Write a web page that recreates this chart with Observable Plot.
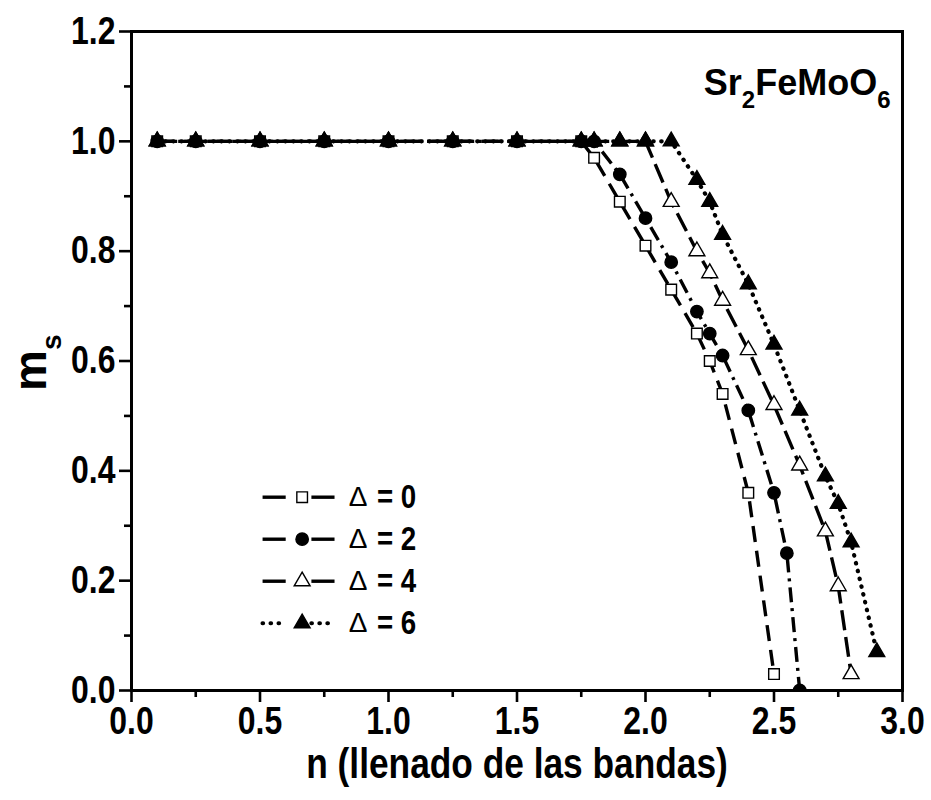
<!DOCTYPE html>
<html>
<head>
<meta charset="utf-8">
<script src="https://cdn.jsdelivr.net/npm/d3@7"></script>
<script src="https://cdn.jsdelivr.net/npm/@observablehq/plot@0.6"></script>
<style>
  body { margin: 0; background: #fff; }
  #chart svg { display: block; }
</style>
</head>
<body>
<div id="chart"></div>
<script>
// Band filling n where all curves are still saturated (m_s = 1)
const flatN = [0.1, 0.25, 0.5, 0.75, 1.0, 1.25, 1.5, 1.75];
const flatM = [1, 1, 1, 1, 1, 1, 1, 1];

// Δ = 0
const n0 = [...flatN, 1.8, 1.9, 2.0, 2.1, 2.2, 2.25, 2.3, 2.4, 2.5];
const m0 = [...flatM, 0.97, 0.89, 0.81, 0.73, 0.65, 0.60, 0.54, 0.36, 0.03];
// Δ = 2
const n2 = [...flatN, 1.8, 1.9, 2.0, 2.1, 2.2, 2.25, 2.3, 2.4, 2.5, 2.55, 2.6];
const m2 = [...flatM, 1.0, 0.94, 0.86, 0.78, 0.69, 0.65, 0.61, 0.51, 0.36, 0.25, 0.0];
// Δ = 4
const n4 = [...flatN, 1.8, 1.9, 2.0, 2.1, 2.2, 2.25, 2.3, 2.4, 2.5, 2.6, 2.7, 2.75, 2.8];
const m4 = [...flatM, 1.0, 1.0, 1.0, 0.89, 0.80, 0.76, 0.71, 0.62, 0.52, 0.41, 0.29, 0.19, 0.03];
// Δ = 6
const n6 = [...flatN, 1.8, 1.9, 2.0, 2.1, 2.2, 2.25, 2.3, 2.4, 2.5, 2.6, 2.7, 2.75, 2.8, 2.9];
const m6 = [...flatM, 1.0, 1.0, 1.0, 1.0, 0.93, 0.89, 0.83, 0.74, 0.63, 0.51, 0.39, 0.34, 0.27, 0.07];

const deltas = [0, 2, 4, 6];
const seriesN = [n0, n2, n4, n6];
const seriesM = [m0, m2, m4, m6];

const xMajor = [0, 0.5, 1.0, 1.5, 2.0, 2.5, 3.0];
const xMinor = [0.25, 0.75, 1.25, 1.75, 2.25, 2.75];
const yMajor = [0, 0.2, 0.4, 0.6, 0.8, 1.0, 1.2];
const yMinor = [0.1, 0.3, 0.5, 0.7, 0.9, 1.1];

const xTitle = "n (llenado de las bandas)";
const yTitle = "m_s";
const compound = "Sr_2FeMoO_6";

// marker and line style per Δ
const styles = [
  { symbol: "square",   fill: "white", r: 6.0, dash: "16,9",     cap: "butt",  width: 3.4 },
  { symbol: "circle",   fill: "black", r: 6.2, dash: "15,6,3,6", cap: "butt",  width: 3.4 },
  { symbol: "triangle", fill: "white", r: 5.9, dash: "20,7",     cap: "butt",  width: 3.4 },
  { symbol: "triangle", fill: "black", r: 5.9, dash: "0.5,7.5",  cap: "round", width: 4.2 }
];

const series = deltas.map((d, i) => ({
  delta: d,
  points: seriesN[i].map((n, j) => ({ n, m: seriesM[i][j] }))
}));

// legend layout (in data units of the panel)
const legTop = 0.352, legStep = 0.0765;
const legSegA = [0.51, 0.60], legSegB = [0.70, 0.79], legMark = 0.664;
const legSym = 0.845, legEq = 0.955;
const legRows = series.map((s, i) => ({ delta: s.delta, y: legTop - i * legStep }));

const marks = [];

// curves
series.forEach((s, i) => {
  const st = styles[i];
  marks.push(Plot.line(s.points, {
    x: "n", y: "m", stroke: "black", strokeWidth: st.width,
    strokeDasharray: st.dash, strokeLinecap: st.cap, clip: true
  }));
});
series.forEach((s, i) => {
  const st = styles[i];
  marks.push(Plot.dot(s.points, {
    x: "n", y: "m", symbol: () => st.symbol, r: st.r,
    fill: st.fill, stroke: "black", strokeWidth: 1.4, clip: true
  }));
});

// legend samples
legRows.forEach((row, i) => {
  const st = styles[i];
  for (const seg of [legSegA, legSegB]) {
    marks.push(Plot.link([row], {
      x1: () => seg[0], x2: () => seg[1], y1: "y", y2: "y",
      stroke: "black", strokeWidth: st.width,
      strokeDasharray: i === 3 ? st.dash : null, strokeLinecap: st.cap
    }));
  }
  marks.push(Plot.dot([row], {
    x: () => legMark, y: "y", symbol: () => st.symbol, r: st.r,
    fill: st.fill, stroke: "black", strokeWidth: 1.4
  }));
});
marks.push(Plot.text(legRows, {
  x: () => legSym, y: "y", text: () => "Δ", textAnchor: "start",
  fontSize: 28, fontWeight: "normal", fill: "black", className: "keep-width"
}));
marks.push(Plot.text(legRows, {
  x: () => legEq, y: "y", text: (d) => `= ${d.delta}`, textAnchor: "start",
  fontSize: 33, fontWeight: "bold", fill: "black"
}));

// axes
marks.push(Plot.axisX(xMajor, {
  tickSize: 12, tickPadding: 5, strokeWidth: 2.6, fontSize: 38,
  tickFormat: d3.format(".1f"), label: null
}));
marks.push(Plot.axisX(xMinor, {
  tickSize: 7, strokeWidth: 2.6, tickFormat: () => "", label: null
}));
marks.push(Plot.axisY(yMajor, {
  tickSize: 12, tickPadding: 4, strokeWidth: 2.6, fontSize: 38,
  tickFormat: d3.format(".1f"), label: null
}));
marks.push(Plot.axisY(yMinor, {
  tickSize: 7, strokeWidth: 2.6, tickFormat: () => "", label: null
}));
marks.push(Plot.frame({ stroke: "black", strokeWidth: 3 }));

// titles
marks.push(Plot.text([xTitle], {
  text: (d) => d, frameAnchor: "bottom", dy: 87, fontSize: 42, fontWeight: "bold"
}));
marks.push(Plot.text([yTitle], {
  text: (d) => d, frameAnchor: "left", dx: -100, dy: 30, rotate: -90,
  fontSize: 46, fontWeight: "bold", className: "sub-ylab keep-width"
}));
marks.push(Plot.text([compound], {
  text: (d) => d, frameAnchor: "top-right", dx: -12, dy: 38, textAnchor: "end",
  fontSize: 36, fontWeight: "bold", className: "sub-chem keep-width"
}));

const plot = Plot.plot({
  width: 931,
  height: 800,
  marginLeft: 131,
  marginRight: 29,
  marginTop: 31,
  marginBottom: 110,
  x: { domain: [0, 3] },
  y: { domain: [0, 1.2] },
  style: {
    fontFamily: "'Liberation Sans', Arial, Helvetica, sans-serif",
    fontWeight: "bold",
    color: "black",
    background: "white",
    overflow: "visible"
  },
  marks
});

document.getElementById("chart").appendChild(plot);

// turn "_x" into subscript tspans
const subSpec = {
  "sub-ylab": { size: 28, shift: 15 },
  "sub-chem": { size: 24, shift: 13 }
};
for (const cls of Object.keys(subSpec)) {
  const { size, shift } = subSpec[cls];
  d3.select(plot).selectAll(`g.${cls} text`).each(function () {
    const el = d3.select(this);
    const src = el.text();
    el.text("");
    const tokens = src.split(/(_.)/).filter((t) => t.length);
    let down = false;
    for (const t of tokens) {
      if (t.startsWith("_")) {
        el.append("tspan").attr("font-size", size).attr("dy", shift).text(t.slice(1));
        down = true;
      } else {
        const ts = el.append("tspan").text(t);
        if (down) { ts.attr("dy", -shift); down = false; }
      }
    }
  });
}

// narrow the bold lettering to a condensed face
d3.select(plot).selectAll("text").each(function () {
  if (this.closest("g.keep-width")) return;
  if (!this.textContent.trim()) return;
  const len = this.getComputedTextLength();
  this.setAttribute("textLength", (len * 0.84).toFixed(1));
  this.setAttribute("lengthAdjust", "spacingAndGlyphs");
});
</script>
</body>
</html>
